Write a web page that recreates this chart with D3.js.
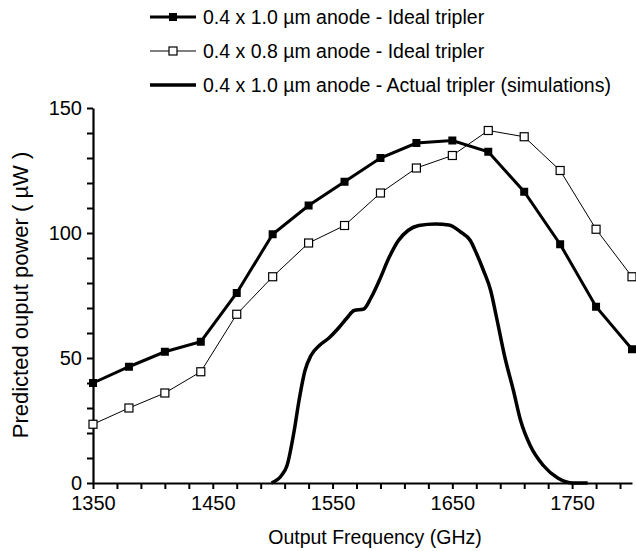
<!DOCTYPE html>
<html>
<head>
<meta charset="utf-8">
<script src="https://cdn.jsdelivr.net/npm/d3@7"></script>
<style>
  html, body { margin: 0; padding: 0; background: #fff; }
  svg { display: block; font-family: "Liberation Sans", Arial, sans-serif; }
</style>
</head>
<body>
<svg id="chart" width="636" height="551"></svg>
<script>
// ---- data ----
const frequencies = [1350, 1380, 1410, 1440, 1470, 1500, 1530, 1560, 1590, 1620, 1650, 1680, 1710, 1740, 1770, 1800];
const ideal10 = [40, 46.5, 52.5, 56.5, 76, 99.5, 111, 120.5, 130, 136, 137, 132.5, 116.5, 95.5, 70.5, 53.5];
const ideal08 = [23.5, 30, 36, 44.5, 67.5, 82.5, 96, 103, 116, 126, 131, 141, 138.5, 125, 101.5, 82.5];
const actualFreq = [1499, 1507, 1512, 1518, 1522, 1527, 1532, 1539, 1547, 1555, 1562, 1568, 1576, 1582, 1589, 1597, 1605, 1613, 1622, 1636, 1647, 1657, 1665, 1670, 1676, 1682, 1687, 1694, 1701, 1707, 1715, 1726, 1738, 1751, 1763];
const actualPower = [0, 2.8, 7, 21, 33, 45, 51, 55, 58, 62, 66, 69, 69.6, 74, 81, 90, 97, 101, 103, 103.6, 103.2, 100.4, 97, 92, 85, 77, 66, 50, 37, 25, 15, 7, 2, 0, 0];
const seriesLabels = ["0.4 x 1.0 µm anode - Ideal tripler", "0.4 x 0.8 µm anode - Ideal tripler", "0.4 x 1.0 µm anode - Actual tripler (simulations)"];
const xTickValues = d3.range(1350, 1800, 20);
const xLabelValues = [1350, 1450, 1550, 1650, 1750];
const yTickValues = d3.range(0, 151, 10);
const yLabelValues = [0, 50, 100, 150];

// ---- layout ----
const svg = d3.select("#chart");
const x = d3.scaleLinear().domain([1350, 1800]).range([93, 632]);
const y = d3.scaleLinear().domain([0, 150]).range([483, 108]);

// axes
const xAxis = d3.axisBottom(x).tickValues(xTickValues).tickSize(6).tickSizeOuter(0)
  .tickFormat(d => xLabelValues.includes(d) ? d : "");
const gx = svg.append("g").attr("transform", `translate(0,${y(0)})`).call(xAxis);
gx.select(".domain").attr("stroke", "#000").attr("stroke-width", 2.2);
gx.selectAll(".tick line").attr("stroke", "#000").attr("stroke-width", 2);
gx.selectAll(".tick text").attr("font-size", 20).attr("fill", "#000").attr("y", 13).attr("dy", "0.71em")
  .attr("font-family", "Liberation Sans, Arial, sans-serif");

const yAxis = d3.axisLeft(y).tickValues(yTickValues).tickSize(6).tickSizeOuter(0)
  .tickFormat(d => yLabelValues.includes(d) ? d : "");
const gy = svg.append("g").attr("transform", `translate(${x(1350)},0)`).call(yAxis);
gy.select(".domain").attr("stroke", "#000").attr("stroke-width", 2.2);
gy.selectAll(".tick line").attr("stroke", "#000").attr("stroke-width", 2);
gy.selectAll(".tick text").attr("font-size", 20).attr("fill", "#000").attr("x", -11)
  .attr("font-family", "Liberation Sans, Arial, sans-serif");

// axis titles
svg.append("text").attr("x", 375).attr("y", 544).attr("text-anchor", "middle")
  .attr("font-size", 19.5).text("Output Frequency (GHz)");
svg.append("text").attr("transform", `translate(28,${295}) rotate(-90)`)
  .attr("text-anchor", "middle").attr("font-size", 22).text("Predicted ouput power ( µW )");

// series
const line = d3.line().x(d => x(d[0])).y(d => y(d[1]));
const d10 = frequencies.map((f, i) => [f, ideal10[i]]);
const d08 = frequencies.map((f, i) => [f, ideal08[i]]);
const dAct = actualFreq.map((f, i) => [f, actualPower[i]]);

svg.append("path").datum(d08).attr("d", line).attr("fill", "none").attr("stroke", "#000").attr("stroke-width", 1);
svg.append("path").datum(d10).attr("d", line).attr("fill", "none").attr("stroke", "#000").attr("stroke-width", 3);
svg.append("path").datum(dAct).attr("d", d3.line().x(d => x(d[0])).y(d => y(d[1])).curve(d3.curveMonotoneX))
  .attr("fill", "none").attr("stroke", "#000").attr("stroke-width", 3.5).attr("stroke-linejoin", "round");

svg.append("g").selectAll("rect").data(d08).join("rect")
  .attr("x", d => x(d[0]) - 4).attr("y", d => y(d[1]) - 4).attr("width", 8).attr("height", 8)
  .attr("fill", "#fff").attr("stroke", "#000").attr("stroke-width", 1.2);
svg.append("g").selectAll("rect").data(d10).join("rect")
  .attr("x", d => x(d[0]) - 4).attr("y", d => y(d[1]) - 4).attr("width", 8).attr("height", 8)
  .attr("fill", "#000");

// legend
const legend = svg.append("g");
const legY = [17, 51, 85];
const lx0 = 150, lx1 = 196;
legend.append("line").attr("x1", lx0).attr("x2", lx1).attr("y1", legY[0]).attr("y2", legY[0]).attr("stroke", "#000").attr("stroke-width", 3);
legend.append("rect").attr("x", (lx0 + lx1) / 2 - 4).attr("y", legY[0] - 4).attr("width", 8).attr("height", 8).attr("fill", "#000");
legend.append("line").attr("x1", lx0).attr("x2", lx1).attr("y1", legY[1]).attr("y2", legY[1]).attr("stroke", "#000").attr("stroke-width", 1);
legend.append("rect").attr("x", (lx0 + lx1) / 2 - 4).attr("y", legY[1] - 4).attr("width", 8).attr("height", 8).attr("fill", "#fff").attr("stroke", "#000").attr("stroke-width", 1.2);
legend.append("line").attr("x1", lx0).attr("x2", lx1).attr("y1", legY[2]).attr("y2", legY[2]).attr("stroke", "#000").attr("stroke-width", 3.5);
legend.selectAll("text").data(seriesLabels).join("text")
  .attr("x", 203).attr("y", (d, i) => legY[i]).attr("dy", "0.35em")
  .attr("font-size", 19.5).text(d => d);
</script>
</body>
</html>
